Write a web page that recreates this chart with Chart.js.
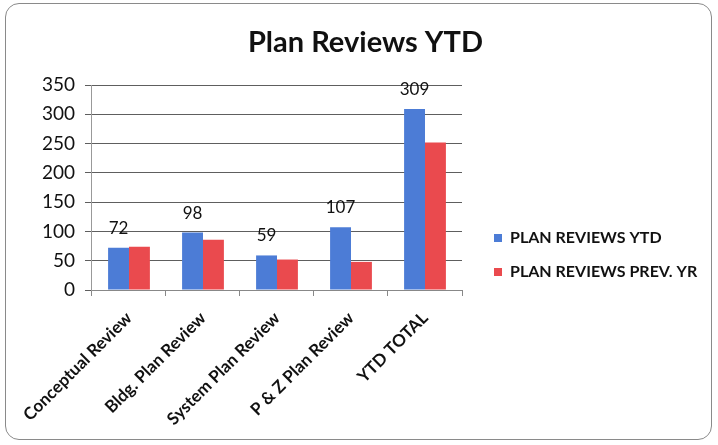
<!DOCTYPE html>
<html>
<head>
<meta charset="utf-8">
<script src="https://cdn.jsdelivr.net/npm/chart.js@4/dist/chart.umd.min.js"></script>
<style>
  body { margin: 0; background: #fff; }
  #caixa {
    position: absolute; left: 5px; top: 3px; width: 705px; height: 435px;
    border: 1px solid #8a8a8a; border-radius: 14px; background: #fff; overflow: hidden;
  }
  canvas { display: block; }
</style>
</head>
<body>
<div id="caixa"><canvas id="grafico"></canvas></div>
<script>
/* ================= DADOS ================= */

const titulo = "Plan Reviews YTD";
const categorias = ["Conceptual Review", "Bldg. Plan Review", "System Plan Review", "P & Z Plan Review", "YTD TOTAL"];
const reviewsYTD = [72, 98, 59, 107, 309];
const reviewsPrevYr = [74, 86, 52, 48, 252];
const ticksY = [0, 50, 100, 150, 200, 250, 300, 350];

const fonte = "Lato, 'Open Sans', sans-serif";

/* ================= PLUGINS ================= */

// valores em cima das barras azuis
const rotulosValores = {
  id: "rotulosValores",
  afterDatasetsDraw(chart) {
    const ctx = chart.ctx;
    const meta = chart.getDatasetMeta(0);
    ctx.save();
    ctx.font = "17px " + fonte;
    ctx.fillStyle = "#111";
    ctx.textAlign = "center";
    ctx.textBaseline = "bottom";
    meta.data.forEach((barra, i) => {
      ctx.fillText(reviewsYTD[i], barra.x, barra.y - 11);
    });
    ctx.restore();
  }
};

// titulo e legenda desenhados a mao (titulo centrado no quadro todo)
const tituloLegenda = {
  id: "tituloLegenda",
  afterDraw(chart) {
    const ctx = chart.ctx;
    ctx.save();
    ctx.fillStyle = "#111";
    ctx.font = "bold 29px " + fonte;
    ctx.textAlign = "center";
    ctx.textBaseline = "middle";
    ctx.fillText(titulo, chart.width / 2 + 7, 39);

    const x = chart.chartArea.right + 32;
    ctx.font = "bold 16px " + fonte;
    ctx.textAlign = "left";
    chart.data.datasets.forEach((ds, i) => {
      const y = 234 + i * 34;
      ctx.fillStyle = ds.backgroundColor;
      ctx.fillRect(x, y - 4, 8, 8);
      ctx.fillStyle = "#111";
      ctx.fillText(ds.label, x + 16, y);
    });
    ctx.restore();
  }
};

/* ================= GRAFICO ================= */

new Chart(document.getElementById("grafico"), {
  type: "bar",
  data: {
    labels: categorias,
    datasets: [
      {
        label: "PLAN REVIEWS YTD",
        data: reviewsYTD,
        backgroundColor: "#4c7cd6",
        categoryPercentage: 0.565,
        barPercentage: 1
      },
      {
        label: "PLAN REVIEWS PREV. YR",
        data: reviewsPrevYr,
        backgroundColor: "#ea4a4e",
        categoryPercentage: 0.565,
        barPercentage: 1
      }
    ]
  },
  options: {
    responsive: true,
    maintainAspectRatio: false,
    animation: false,
    layout: { padding: { left: 24, right: 249, top: 81, bottom: 0 } },
    plugins: {
      legend: { display: false },
      tooltip: { enabled: false }
    },
    scales: {
      x: {
        afterFit(eixo) { eixo.height = 149; },
        grid: { drawOnChartArea: false, drawTicks: true, tickLength: 6, color: "#888", offset: true },
        border: { color: "#888" },
        ticks: {
          color: "#111",
          font: { family: fonte, size: 17, weight: "bold" },
          minRotation: 45,
          maxRotation: 45,
          padding: 12
        }
      },
      y: {
        min: 0,
        max: 350,
        afterBuildTicks(eixo) { eixo.ticks = ticksY.map(v => ({ value: v })); },
        afterFit(eixo) { eixo.width = 60; },
        grid: { color: "#5e5e5e", tickLength: 7 },
        border: { color: "#999" },
        ticks: {
          color: "#111",
          font: { family: fonte, size: 19 },
          padding: 10
        }
      }
    }
  },
  plugins: [rotulosValores, tituloLegenda]
});
</script>
</body>
</html>
